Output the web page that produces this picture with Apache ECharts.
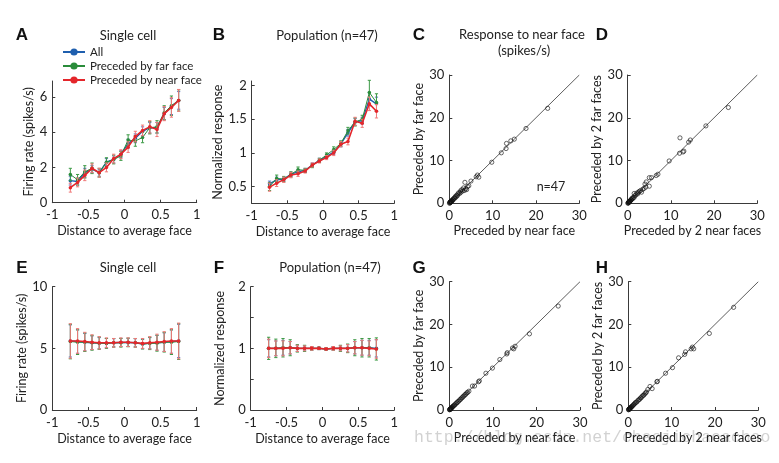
<!DOCTYPE html>
<html><head><meta charset="utf-8">
<script src="https://cdn.jsdelivr.net/npm/echarts@6/dist/echarts.min.js"></script>
<style>html,body{margin:0;padding:0;background:#fff}#c{width:779px;height:463px}</style>
</head><body><div id="c"></div>
<script>
// ---------- data ----------
const distX = [-0.75,-0.65,-0.55,-0.45,-0.35,-0.25,-0.15,-0.05,0.05,0.15,0.25,0.35,0.45,0.55,0.65,0.75];

const A_all  = [1.25,1.2,1.7,1.9,1.7,2.3,2.45,2.75,3.35,3.65,4.05,4.25,4.25,5.05,5.45,5.8];
const A_far  = [1.6,1.3,1.75,1.95,1.7,2.3,2.45,2.65,3.55,3.5,3.7,4.25,4.3,5.1,5.5,5.8];
const A_near = [0.85,1.15,1.55,1.95,1.7,2.0,2.5,2.75,3.15,3.75,4.1,4.3,4.15,5.05,5.4,5.8];
const A_err_all  = [0.25,0.2,0.25,0.2,0.2,0.2,0.2,0.2,0.25,0.25,0.25,0.3,0.3,0.35,0.45,0.5];
const A_err_far  = [0.35,0.3,0.35,0.3,0.25,0.25,0.25,0.25,0.3,0.3,0.3,0.35,0.35,0.4,0.55,0.6];
const A_err_near = [0.25,0.25,0.3,0.25,0.25,0.25,0.25,0.25,0.3,0.3,0.3,0.35,0.4,0.4,0.55,0.62];

const B_all  = [0.54,0.6,0.61,0.68,0.72,0.74,0.82,0.89,0.95,1.01,1.13,1.3,1.46,1.48,1.8,1.73];
const B_far  = [0.5,0.62,0.61,0.68,0.75,0.74,0.81,0.89,0.97,1.05,1.14,1.33,1.46,1.5,1.9,1.75];
const B_near = [0.49,0.55,0.6,0.67,0.69,0.73,0.82,0.88,0.93,1.0,1.13,1.17,1.47,1.44,1.73,1.62];
const B_err_all  = [0.04,0.04,0.03,0.03,0.03,0.03,0.03,0.03,0.03,0.03,0.04,0.05,0.05,0.05,0.1,0.1];
const B_err_far  = [0.06,0.05,0.04,0.04,0.04,0.03,0.03,0.03,0.03,0.04,0.04,0.05,0.06,0.06,0.18,0.13];
const B_err_near = [0.06,0.05,0.04,0.04,0.04,0.03,0.03,0.03,0.03,0.04,0.04,0.05,0.06,0.06,0.1,0.1];

const E_all  = [5.6,5.55,5.5,5.45,5.42,5.42,5.45,5.48,5.48,5.45,5.35,5.42,5.45,5.5,5.55,5.6];
const E_far  = [5.55,5.5,5.5,5.45,5.42,5.4,5.45,5.45,5.48,5.45,5.35,5.4,5.42,5.5,5.5,5.55];
const E_near = [5.6,5.6,5.55,5.5,5.45,5.45,5.45,5.5,5.5,5.45,5.4,5.45,5.5,5.55,5.6,5.6];
const E_err_all  = [1.3,0.95,0.7,0.55,0.45,0.38,0.33,0.33,0.33,0.33,0.38,0.45,0.6,0.75,0.95,1.35];
const E_err_far  = [1.4,1.0,0.75,0.6,0.5,0.4,0.35,0.35,0.35,0.35,0.4,0.5,0.65,0.8,1.0,1.45];
const E_err_near = [1.4,1.0,0.75,0.6,0.5,0.4,0.35,0.35,0.35,0.35,0.4,0.5,0.65,0.8,1.0,1.45];

const F_all  = [1.0,1.0,1.01,1.01,1.0,1.0,1.0,1.0,0.99,1.0,1.0,1.0,1.01,1.01,1.01,1.0];
const F_far  = [1.0,1.0,1.01,1.01,1.0,1.0,1.0,1.0,0.99,1.0,1.0,1.0,1.01,1.01,1.01,0.99];
const F_near = [1.0,1.0,1.0,1.01,1.0,1.0,1.0,1.0,0.99,1.0,1.0,1.0,1.01,1.01,1.0,0.99];
const F_err_all  = [0.14,0.12,0.12,0.1,0.05,0.04,0.03,0.02,0.02,0.03,0.04,0.06,0.1,0.12,0.12,0.14];
const F_err_far  = [0.18,0.15,0.15,0.13,0.06,0.05,0.03,0.02,0.02,0.03,0.05,0.07,0.13,0.15,0.15,0.18];
const F_err_near = [0.15,0.12,0.12,0.1,0.05,0.04,0.03,0.02,0.02,0.03,0.04,0.06,0.1,0.12,0.12,0.15];

const C_near = [22.7,17.7,15.0,14.2,13.2,13.1,12.0,9.8,6.8,6.5,6.2,5.0,4.5,4.2,4.0,3.8,3.6,3.5,3.3,3.1,2.9,2.7,2.6,2.4,2.2,2.0,1.9,1.7,1.6,1.4,1.3,1.2,1.0,0.9,0.8,0.7,0.6,0.5,0.45,0.4,0.35,0.3,0.25,0.2,0.15,0.1,0.05];
const C_far  = [22.2,17.5,15.0,14.6,14.0,12.8,11.8,9.6,6.1,6.6,6.2,5.2,4.1,3.9,3.2,3.4,4.9,3.0,3.6,2.9,3.2,2.6,2.9,2.3,2.5,2.2,1.8,1.9,1.5,1.6,1.2,1.3,1.1,0.8,0.9,0.6,0.7,0.5,0.4,0.5,0.3,0.4,0.2,0.3,0.1,0.2,0.0];

const D_near = [23.3,18.1,14.5,14.1,12.1,13.0,12.8,12.0,9.6,7.0,6.6,5.5,5.0,5.0,4.3,4.0,3.8,4.2,3.5,3.2,3.0,2.7,2.5,2.3,2.1,1.9,1.7,1.5,1.5,1.3,1.2,1.0,0.9,0.8,0.7,0.6,0.55,0.5,0.45,0.4,0.35,0.3,0.25,0.2,0.15,0.1,0.05];
const D_far  = [22.4,18.1,14.8,14.3,15.3,12.2,12.0,11.7,9.9,6.8,6.5,6.0,6.0,4.0,5.0,4.5,3.5,3.8,3.3,2.6,3.0,2.8,2.6,2.2,2.4,2.0,1.8,2.3,1.4,1.4,1.1,1.2,0.9,0.8,0.8,0.6,0.5,0.5,0.4,0.45,0.3,0.3,0.2,0.25,0.1,0.1,0.0];

const G_near = [25.0,18.4,15.1,14.8,14.5,13.3,13.2,11.6,9.9,8.4,6.9,6.7,5.8,5.3,4.5,4.2,4.0,3.8,3.6,3.4,3.2,3.0,2.8,2.6,2.4,2.2,2.0,1.8,1.7,1.5,1.3,1.2,1.0,0.9,0.8,0.7,0.6,0.5,0.45,0.4,0.35,0.3,0.25,0.2,0.15,0.1,0.05];
const G_far  = [24.3,17.8,14.9,14.3,14.5,13.4,13.1,11.8,9.8,8.6,6.8,6.6,5.6,5.6,4.4,4.1,4.0,3.7,3.6,3.3,3.2,2.9,2.8,2.5,2.4,2.1,2.0,1.7,1.7,1.5,1.2,1.2,1.0,0.9,0.8,0.7,0.6,0.5,0.4,0.4,0.3,0.3,0.2,0.2,0.1,0.1,0.05];

const H_near = [24.3,18.7,15.1,14.8,14.5,13.2,13.0,11.6,10.2,8.6,6.7,6.6,5.5,5.0,4.5,4.2,4.0,3.8,3.6,3.4,3.2,3.0,2.8,2.6,2.4,2.2,2.0,1.8,1.6,1.5,1.3,1.2,1.0,0.9,0.8,0.7,0.6,0.5,0.45,0.4,0.35,0.3,0.25,0.2,0.15,0.1,0.05];
const H_far  = [24.0,17.9,14.3,14.7,14.3,13.6,13.0,12.2,9.9,8.6,6.7,6.6,5.0,5.5,4.8,4.2,4.0,3.8,3.5,3.4,3.2,2.9,2.8,2.5,2.4,2.2,1.9,1.8,1.7,1.5,1.3,1.2,1.0,0.9,0.8,0.7,0.6,0.5,0.45,0.4,0.35,0.3,0.25,0.2,0.15,0.1,0.05];

const unityLine = [0, 30];
const seriesNames = ['All', 'Preceded by far face', 'Preceded by near face'];

// ---------- style / layout ----------
const FONT = 'Lato';
const COLORS = ['#1f5fae', '#2a8c3a', '#e4262b'];
const ERRCOL = ['#5a72c4', '#3d9a46', '#f07a7a'];
const LINEW = [1.4, 1.0, 1.6];
const AX = '#3a3a3a';
const TXT = '#222';

const grids = [
  {left: 52.3, top: 81,    width: 144.4, height: 121.7}, // A
  {left: 251.7, top: 81,   width: 142.6, height: 122.3}, // B
  {left: 449.3, top: 75,   width: 130,   height: 128.3}, // C
  {left: 627.7, top: 75,   width: 129.6, height: 128.3}, // D
  {left: 52.3, top: 286.7, width: 144.4, height: 123.3}, // E
  {left: 250.7, top: 286.7,width: 143.6, height: 123.3}, // F
  {left: 449.3, top: 281.7,width: 130.7, height: 128.3}, // G
  {left: 628.3, top: 281.7,width: 130,   height: 128.3}  // H
];

function axisBase(extra) {
  return Object.assign({
    type: 'value',
    axisLine: {show: true, onZero: false, lineStyle: {color: AX, width: 1}},
    axisTick: {show: true, inside: true, length: 3, lineStyle: {color: AX}},
    splitLine: {show: false},
    axisLabel: {color: TXT, fontFamily: FONT, fontSize: 13, margin: 6},
    nameLocation: 'middle',
    nameTextStyle: {color: TXT, fontFamily: FONT, fontSize: 12.5}
  }, extra);
}

const xAxes = [], yAxes = [], series = [];

function distXAxis(g) {
  return axisBase({gridIndex: g, min: -1, max: 1, interval: 0.5, name: 'Distance to average face', nameGap: 22});
}
function scatXAxis(g, name) {
  return axisBase({gridIndex: g, min: 0, max: 30, interval: 10, name: name, nameGap: 21});
}

// A
xAxes.push(distXAxis(0));
yAxes.push(axisBase({gridIndex: 0, min: 0, max: 6.9, name: 'Firing rate (spikes/s)', nameGap: 17,
  axisLabel: {color: TXT, fontFamily: FONT, fontSize: 13, margin: 5, customValues: [0,2,4,6]},
  axisTick: {show: true, inside: true, length: 3, lineStyle: {color: AX}, customValues: [0,2,4,6]}}));
// B
xAxes.push(distXAxis(1));
yAxes.push(axisBase({gridIndex: 1, min: 0.25, max: 2.07, name: 'Normalized response', nameGap: 24,
  axisLabel: {color: TXT, fontFamily: FONT, fontSize: 13, margin: 5, customValues: [0.5,1,1.5,2]},
  axisTick: {show: true, inside: true, length: 3, lineStyle: {color: AX}, customValues: [0.5,1,1.5,2]}}));
// C
xAxes.push(scatXAxis(2, 'Preceded by near face'));
yAxes.push(axisBase({gridIndex: 2, min: 0, max: 30, interval: 10, name: 'Preceded by far face', nameGap: 21,
  axisLabel: {color: TXT, fontFamily: FONT, fontSize: 13, margin: 5}}));
// D
xAxes.push(scatXAxis(3, 'Preceded by 2 near faces'));
yAxes.push(axisBase({gridIndex: 3, min: 0, max: 30, interval: 10, name: 'Preceded by 2 far faces', nameGap: 20,
  axisLabel: {color: TXT, fontFamily: FONT, fontSize: 13, margin: 5}}));
// E
xAxes.push(distXAxis(4));
yAxes.push(axisBase({gridIndex: 4, min: 0, max: 10, interval: 5, name: 'Firing rate (spikes/s)', nameGap: 19,
  axisLabel: {color: TXT, fontFamily: FONT, fontSize: 13, margin: 5}}));
// F
xAxes.push(distXAxis(5));
yAxes.push(axisBase({gridIndex: 5, min: 0, max: 2, interval: 0.5, name: 'Normalized response', nameGap: 24,
  axisLabel: {color: TXT, fontFamily: FONT, fontSize: 13, margin: 5, customValues: [0,1,2]}}));
// G
xAxes.push(scatXAxis(6, 'Preceded by near face'));
yAxes.push(axisBase({gridIndex: 6, min: 0, max: 30, interval: 10, name: 'Preceded by far face', nameGap: 21,
  axisLabel: {color: TXT, fontFamily: FONT, fontSize: 13, margin: 5}}));
// H
xAxes.push(scatXAxis(7, 'Preceded by 2 near faces'));
yAxes.push(axisBase({gridIndex: 7, min: 0, max: 30, interval: 10, name: 'Preceded by 2 far faces', nameGap: 21,
  axisLabel: {color: TXT, fontFamily: FONT, fontSize: 13, margin: 5}}));

function errRender(color) {
  return function (params, api) {
    const x = api.value(0), y = api.value(1), e = api.value(2);
    const t = api.coord([x, y + e]), b = api.coord([x, y - e]);
    const cap = 1.6;
    const st = {stroke: color, lineWidth: 1};
    return {type: 'group', children: [
      {type: 'line', shape: {x1: t[0], y1: t[1], x2: b[0], y2: b[1]}, style: st},
      {type: 'line', shape: {x1: t[0] - cap, y1: t[1], x2: t[0] + cap, y2: t[1]}, style: st},
      {type: 'line', shape: {x1: b[0] - cap, y1: b[1], x2: b[0] + cap, y2: b[1]}, style: st}
    ]};
  };
}

function addLinePanel(g, vals, errs) {
  for (let k = 0; k < 3; k++) {
    series.push({
      type: 'custom', name: 'err' + g + '_' + k, xAxisIndex: g, yAxisIndex: g,
      renderItem: errRender(ERRCOL[k]), encode: {x: 0, y: 1}, silent: true, z: 2 + k * 2,
      data: distX.map((x, i) => [x, vals[k][i], errs[k][i]])
    });
    series.push({
      type: 'line', name: seriesNames[k], xAxisIndex: g, yAxisIndex: g,
      symbol: 'circle', symbolSize: 3.5, z: 3 + k * 2,
      lineStyle: {color: COLORS[k], width: LINEW[k]}, itemStyle: {color: COLORS[k]},
      data: distX.map((x, i) => [x, vals[k][i]]), animation: false
    });
  }
}
addLinePanel(0, [A_all, A_far, A_near], [A_err_all, A_err_far, A_err_near]);
addLinePanel(1, [B_all, B_far, B_near], [B_err_all, B_err_far, B_err_near]);
addLinePanel(4, [E_all, E_far, E_near], [E_err_all, E_err_far, E_err_near]);
addLinePanel(5, [F_all, F_far, F_near], [F_err_all, F_err_far, F_err_near]);

function addScatter(g, xs, ys) {
  series.push({
    type: 'line', name: 'unity' + g, xAxisIndex: g, yAxisIndex: g, symbol: 'none', silent: true,
    lineStyle: {color: '#333', width: 0.8},
    data: [[unityLine[0], unityLine[0]], [unityLine[1], unityLine[1]]]
  });
  series.push({
    type: 'scatter', name: 'pts' + g, xAxisIndex: g, yAxisIndex: g, symbol: 'circle', symbolSize: 4.2,
    itemStyle: {color: 'rgba(255,255,255,0)', borderColor: '#111', borderWidth: 0.8},
    data: xs.map((x, i) => [x, ys[i]]), z: 3
  });
}
addScatter(2, C_near, C_far);
addScatter(3, D_near, D_far);
addScatter(6, G_near, G_far);
addScatter(7, H_near, H_far);

function ttl(text, x, y, size) {
  return {text: text, left: x, top: y, textAlign: 'center',
    textStyle: {fontFamily: FONT, fontSize: size || 13, fontWeight: 'normal', color: TXT}};
}
function letter(text, x, y) {
  return {text: text, left: x, top: y, textAlign: 'center',
    textStyle: {fontFamily: 'Liberation Sans', fontSize: 17, fontWeight: 'bold', color: '#111'}};
}

const option = {
  backgroundColor: '#fff',
  animation: false,
  textStyle: {fontFamily: FONT},
  grid: grids,
  xAxis: xAxes,
  yAxis: yAxes,
  title: [
    letter('A', 17, 22), letter('B', 214, 22), letter('C', 414, 22), letter('D', 597, 22),
    letter('E', 17, 255), letter('F', 214, 255), letter('G', 414, 255), letter('H', 597, 255),
    ttl('Single cell', 123, 24), ttl('Population (n=47)', 322, 24),
    ttl('Response to near face', 517, 23), ttl('(spikes/s)', 519, 39),
    ttl('Single cell', 123, 256), ttl('Population (n=47)', 325, 256),
    ttl('n=47', 546, 175, 12.5)
  ],
  legend: {
    data: seriesNames, orient: 'vertical', left: 62, top: 46, itemGap: 2,
    itemWidth: 22, itemHeight: 9, padding: 0,
    textStyle: {fontFamily: FONT, fontSize: 11.5, color: TXT}
  },
  graphic: [{
    type: 'text', left: 414, top: 429, z: -1, silent: true,
    style: {text: 'http://blog.csdn.net/chaojichaoachao', fill: '#d2d2d2', font: '16.5px "Liberation Mono"'}
  }],
  series: series
};

const chart = echarts.init(document.getElementById('c'), null, {renderer: 'canvas'});
chart.setOption(option);
</script></body></html>
